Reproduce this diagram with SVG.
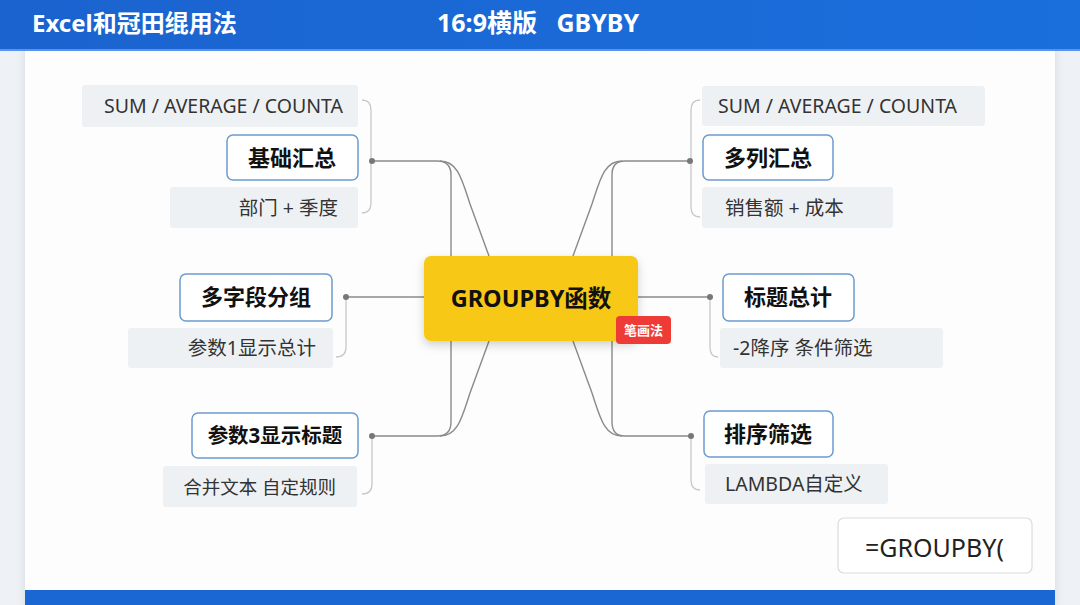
<svg xmlns="http://www.w3.org/2000/svg" width="1080" height="605" viewBox="0 0 1080 605">
<defs>
<linearGradient id="hdr" x1="0" y1="0" x2="1" y2="0">
<stop offset="0" stop-color="#1B63CF"/>
<stop offset="1" stop-color="#1A6FDD"/>
</linearGradient>
<filter id="sh" x="-20%" y="-20%" width="140%" height="150%">
<feDropShadow dx="0" dy="4" stdDeviation="5" flood-color="#000" flood-opacity="0.18"/>
</filter>
<filter id="card" x="-5%" y="-5%" width="110%" height="110%">
<feDropShadow dx="0" dy="0" stdDeviation="4" flood-color="#8090a8" flood-opacity="0.25"/>
</filter>
<style>
text{font-family:"Noto Sans","Noto Sans CJK SC",sans-serif;}
.node rect.main{fill:#fff;stroke:#6b9bd0;stroke-width:1.5;}
.node text.main{font-size:22px;font-weight:bold;fill:#111;text-anchor:middle;}
.sub{fill:#eef1f4;}
.subt{font-size:19.5px;fill:#333;}
.conn{fill:none;stroke:#8a8a8a;stroke-width:1.4;}
.br{fill:none;stroke:#c8c8c8;stroke-width:1.3;}
.dot{fill:#777;}
</style>
</defs>
<rect x="0" y="0" width="1080" height="605" fill="#eef1f5"/>
<rect x="25" y="48" width="1030" height="560" fill="#fdfdfd" filter="url(#card)"/>
<rect x="0" y="0" width="1080" height="50" fill="url(#hdr)"/>
<rect x="0" y="49" width="1080" height="2" fill="#5c93e6"/>
<text x="32" y="32" font-size="24" font-weight="bold" fill="#fff">Excel和冠田绲用法</text>
<text x="437" y="32" font-size="25" font-weight="bold" fill="#fff" xml:space="preserve">16:9横版   GBYBY</text>
<rect x="25" y="590" width="1030" height="15" fill="#1A66D2"/>

<g id="connectors">
<path class="conn" d="M372,161 H437 Q451,161 451,175 V422 Q451,436 437,436 H372"/>
<path class="conn" d="M440,161 C458,161 462,180 470,204 L489,256"/>
<path class="conn" d="M489,341 L470,393 C462,417 458,436 440,436"/>
<path class="conn" d="M690,161 H625 Q612,161 612,175 V422 Q612,436 625,436 H690"/>
<path class="conn" d="M573,256 L592,204 C600,180 604,161 622,161"/>
<path class="conn" d="M573,341 L592,393 C600,417 604,436 622,436"/>
<path class="conn" d="M346,297 H424"/>
<path class="conn" d="M638,297 H710"/>
<path class="br" d="M362,100 Q371,100 371,110 V203 Q371,213 362,213"/>
<path class="br" d="M700,100 Q691,100 691,110 V207 Q691,217 700,217"/>
<path class="br" d="M346,297 V347 Q346,357 336,357"/>
<path class="br" d="M710,297 V347 Q710,357 718,357"/>
<path class="br" d="M372,436 V484 Q372,494 362,494"/>
<path class="br" d="M691,436 V480 Q691,490 700,490"/>
<circle class="dot" cx="372" cy="161" r="3"/>
<circle class="dot" cx="690" cy="161" r="3"/>
<circle class="dot" cx="346" cy="297" r="3"/>
<circle class="dot" cx="710" cy="297" r="3"/>
<circle class="dot" cx="372" cy="436" r="3"/>
<circle class="dot" cx="691" cy="436" r="3"/>
</g>

<g id="center">
<rect x="424" y="256" width="214" height="85" rx="7" fill="#F8C819" filter="url(#sh)"/>
<text x="531" y="307" font-size="23.5" font-weight="bold" fill="#111" text-anchor="middle">GROUPBY函数</text>
<rect x="616" y="316" width="55" height="28" rx="4" fill="#EE3B35"/>
<text x="643.5" y="335" font-size="13" font-weight="bold" fill="#fff" text-anchor="middle">笔画法</text>
</g>

<g id="n1" class="node">
<rect class="sub" x="82" y="85" width="276" height="42" rx="3"/>
<text class="subt" x="343" y="113" text-anchor="end">SUM / AVERAGE / COUNTA</text>
<rect class="main" x="227" y="135" width="131" height="45" rx="6"/>
<text class="main" x="292" y="166">基础汇总</text>
<rect class="sub" x="170" y="187" width="188" height="41" rx="3"/>
<text class="subt" x="338" y="215" text-anchor="end">部门 + 季度</text>
</g>

<g id="n2" class="node">
<rect class="sub" x="702" y="86" width="283" height="40" rx="3"/>
<text class="subt" x="718" y="113">SUM / AVERAGE / COUNTA</text>
<rect class="main" x="703" y="135" width="130" height="45" rx="6"/>
<text class="main" x="768" y="166">多列汇总</text>
<rect class="sub" x="702" y="187" width="191" height="41" rx="3"/>
<text class="subt" x="725" y="215">销售额 + 成本</text>
</g>

<g id="n3" class="node">
<rect class="main" x="180" y="274" width="152" height="47" rx="6"/>
<text class="main" x="256" y="305">多字段分组</text>
<rect class="sub" x="128" y="328" width="205" height="40" rx="3"/>
<text class="subt" x="316" y="355" text-anchor="end">参数1显示总计</text>
</g>

<g id="n4" class="node">
<rect class="main" x="723" y="274" width="131" height="47" rx="6"/>
<text class="main" x="788" y="305">标题总计</text>
<rect class="sub" x="720" y="328" width="223" height="40" rx="3"/>
<text class="subt" x="733" y="355">-2降序 条件筛选</text>
</g>

<g id="n5" class="node">
<rect class="main" x="192" y="413" width="166" height="45" rx="6"/>
<text class="main" x="275" y="443" style="font-size:20.5px">参数3显示标题</text>
<rect class="sub" x="163" y="466" width="194" height="41" rx="3"/>
<text class="subt" x="336" y="494" text-anchor="end" style="font-size:18.5px">合并文本 自定规则</text>
</g>

<g id="n6" class="node">
<rect class="main" x="704" y="411" width="129" height="46" rx="6"/>
<text class="main" x="768" y="442">排序筛选</text>
<rect class="sub" x="705" y="464" width="183" height="40" rx="3"/>
<text class="subt" x="725" y="491">LAMBDA自定义</text>
</g>

<g id="formula">
<rect x="838" y="518" width="194" height="55" rx="6" fill="#fff" stroke="#dcdcdc" stroke-width="1.2"/>
<text x="865" y="557" font-size="25" fill="#222">=GROUPBY(</text>
</g>
</svg>
